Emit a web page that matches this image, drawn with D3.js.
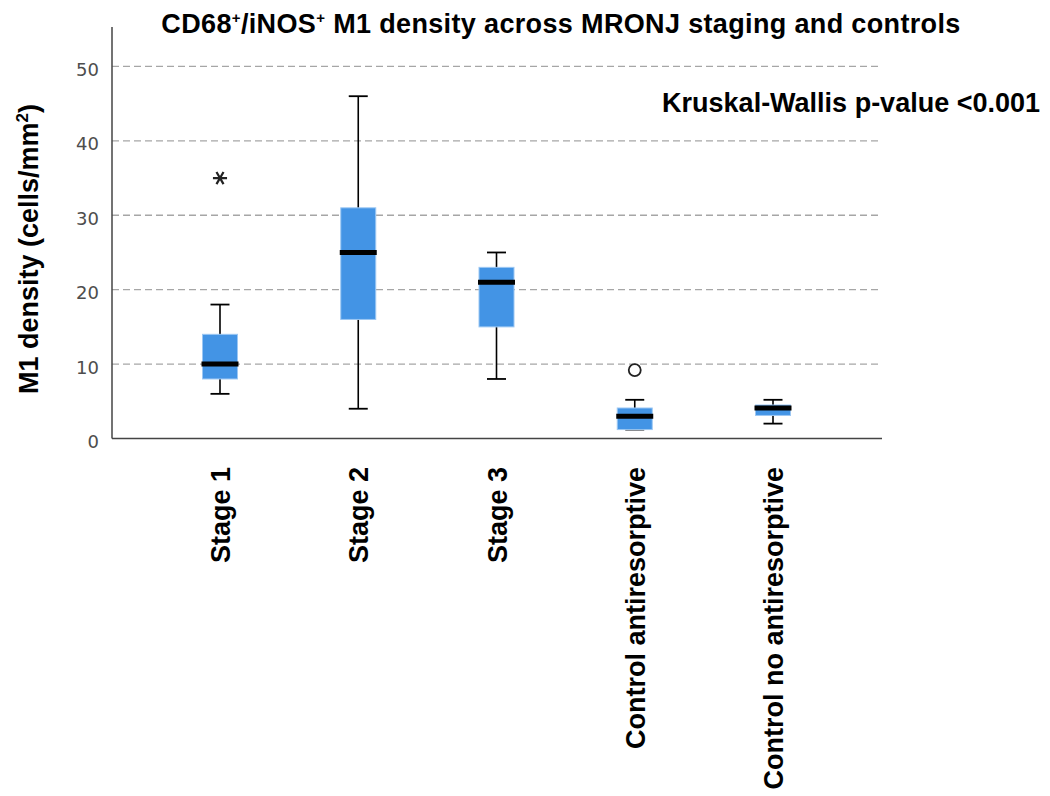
<!DOCTYPE html>
<html lang="en">
<head>
    <meta charset="UTF-8">
    <title>M1 density box plot</title>
    <script src="https://d3js.org/d3.v7.min.js"></script>
    <style>
        body { margin: 0; background: #fff; }
        .bold { font-family: "Liberation Sans", Arial, Helvetica, sans-serif; font-weight: bold; fill: #000; }
        .tick-label { font-family: "DejaVu Sans", sans-serif; font-size: 18px; fill: #4d4d4d; }
    </style>
</head>
<body>
<div id="chart"></div>
<script>
// Box plot summaries
const categories = ["Stage 1", "Stage 2", "Stage 3", "Control antiresorptive", "Control no antiresorptive"];
const whiskerLow  = [6, 4, 8, 1.2, 2];
const q1          = [8, 16, 15, 1.2, 3.1];
const median      = [10, 25, 21, 3, 4.1];
const q3          = [14, 31, 23, 4.1, 4.5];
const whiskerHigh = [18, 46, 25, 5.2, 5.2];

// extreme outliers (star) and outliers (circle)
const extremeCats = ["Stage 1"];
const extremeValues = [35];
const outlierCats = ["Control antiresorptive"];
const outlierValues = [9.2];

const yTicks = [0, 10, 20, 30, 40, 50];

const boxes = categories.map((c, i) => ({
    cat: c, low: whiskerLow[i], q1: q1[i], med: median[i], q3: q3[i], high: whiskerHigh[i]
}));

const width = 1050, height = 796;
const svg = d3.select("#chart").append("svg")
    .attr("width", width)
    .attr("height", height);

const x = d3.scalePoint()
    .domain(categories)
    .range([220, 773]);

const y = d3.scaleLinear()
    .domain([0, 55.3])
    .range([438.5, 27]);

const plotLeft = 112, plotRight = 882;
const boxW = 35, capW = 19;

// gridlines
svg.append("g")
    .selectAll("line")
    .data(yTicks.filter(d => d > 0))
    .join("line")
    .attr("x1", plotLeft)
    .attr("x2", plotRight - 4)
    .attr("y1", d => y(d))
    .attr("y2", d => y(d))
    .attr("stroke", "#a6a6a6")
    .attr("stroke-width", 1.3)
    .attr("stroke-dasharray", "7,4");

// axes
const yAxis = svg.append("g")
    .attr("transform", `translate(${plotLeft},0)`)
    .call(d3.axisLeft(y).tickValues(yTicks).tickSize(0).tickPadding(13));
yAxis.select(".domain").remove();
yAxis.selectAll("text")
    .attr("class", "tick-label")
    .attr("dy", "0.5em");

svg.append("line")
    .attr("x1", plotLeft).attr("x2", plotLeft)
    .attr("y1", y.range()[1]).attr("y2", y(0))
    .attr("stroke", "#444").attr("stroke-width", 1.5);
svg.append("line")
    .attr("x1", plotLeft).attr("x2", plotRight)
    .attr("y1", y(0)).attr("y2", y(0))
    .attr("stroke", "#444").attr("stroke-width", 1.5);

// boxes
const g = svg.append("g");
const bp = g.selectAll("g.box")
    .data(boxes)
    .join("g")
    .attr("class", "box");

bp.append("line")
    .attr("x1", d => x(d.cat)).attr("x2", d => x(d.cat))
    .attr("y1", d => y(d.low)).attr("y2", d => y(d.high))
    .attr("stroke", "#000").attr("stroke-width", 1.6);

bp.selectAll("line.cap")
    .data(d => [d.low, d.high].map(v => ({ cat: d.cat, v: v })))
    .join("line")
    .attr("class", "cap")
    .attr("x1", d => x(d.cat) - capW / 2).attr("x2", d => x(d.cat) + capW / 2)
    .attr("y1", d => y(d.v)).attr("y2", d => y(d.v))
    .attr("stroke", "#000").attr("stroke-width", 1.8);

bp.append("rect")
    .attr("x", d => x(d.cat) - boxW / 2)
    .attr("width", boxW)
    .attr("y", d => y(d.q3))
    .attr("height", d => y(d.q1) - y(d.q3))
    .attr("fill", "#4394e5")
    .attr("stroke", "#9cc7f3")
    .attr("stroke-width", 1);

bp.append("line")
    .attr("x1", d => x(d.cat) - boxW / 2 - 1).attr("x2", d => x(d.cat) + boxW / 2 + 1)
    .attr("y1", d => y(d.med)).attr("y2", d => y(d.med))
    .attr("stroke", "#000").attr("stroke-width", 5);

// outliers
g.selectAll("path.extreme")
    .data(extremeCats.map((c, i) => ({ cat: c, v: extremeValues[i] })))
    .join("path")
    .attr("class", "extreme")
    .attr("transform", d => `translate(${x(d.cat)},${y(d.v)}) rotate(90)`)
    .attr("d", d3.symbol(d3.symbolAsterisk, 140))
    .attr("fill", "none")
    .attr("stroke", "#222")
    .attr("stroke-width", 2.2);

g.selectAll("circle.outlier")
    .data(outlierCats.map((c, i) => ({ cat: c, v: outlierValues[i] })))
    .join("circle")
    .attr("class", "outlier")
    .attr("cx", d => x(d.cat))
    .attr("cy", d => y(d.v))
    .attr("r", 6)
    .attr("fill", "#fff")
    .attr("stroke", "#222")
    .attr("stroke-width", 1.8);

// category labels
svg.append("g")
    .selectAll("text")
    .data(categories)
    .join("text")
    .attr("class", "bold")
    .attr("font-size", 27)
    .attr("text-anchor", "end")
    .attr("transform", d => `translate(${x(d) + 10},467) rotate(-90)`)
    .text(d => d);

// y axis title
const yt = svg.append("text")
    .attr("class", "bold")
    .attr("font-size", 27)
    .attr("text-anchor", "middle")
    .attr("transform", "translate(38,249) rotate(-90)");
yt.append("tspan").text("M1 density (cells/mm");
yt.append("tspan").attr("font-size", 17).attr("dy", -10).text("2");
yt.append("tspan").attr("dy", 10).text(")");

// title
const title = svg.append("text")
    .attr("class", "bold")
    .attr("font-size", 27)
    .attr("letter-spacing", 0.35)
    .attr("text-anchor", "middle")
    .attr("x", 561)
    .attr("y", 33);
title.append("tspan").text("CD68");
title.append("tspan").attr("font-size", 15).attr("dy", -10).text("+");
title.append("tspan").attr("dy", 10).text("/iNOS");
title.append("tspan").attr("font-size", 15).attr("dy", -10).text("+");
title.append("tspan").attr("dy", 10).text(" M1 density across MRONJ staging and controls");

// test annotation
svg.append("text")
    .attr("class", "bold")
    .attr("font-size", 27)
    .attr("text-anchor", "end")
    .attr("x", 1040)
    .attr("y", 112)
    .text("Kruskal-Wallis p-value <0.001");
</script>
</body>
</html>
